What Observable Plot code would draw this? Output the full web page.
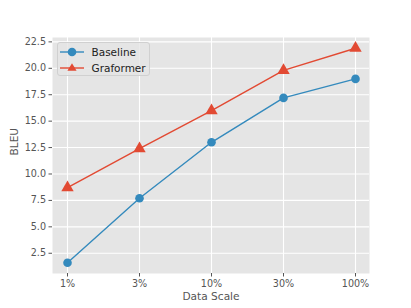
<!DOCTYPE html>
<html>
<head>
<meta charset="utf-8">
<script src="https://cdn.jsdelivr.net/npm/d3@7"></script>
<script src="https://cdn.jsdelivr.net/npm/@observablehq/plot@0.6"></script>
<style>
  html, body { margin: 0; padding: 0; background: #fff; }
  #wrap { position: relative; width: 411px; height: 308px; font-family: "DejaVu Sans", sans-serif; }
  #legend { position: absolute; left: 56.5px; top: 42px; width: 93px; height: 34px; box-sizing: border-box;
            background: rgba(229,229,229,0.8); border: 1px solid #d0d0d0; border-radius: 3px; }
  .row { position: absolute; left: 2px; height: 14px; display: flex; align-items: center; font-size: 10.5px; color: #222; }
  .row svg { margin-right: 6px; }
</style>
</head>
<body>
<div id="wrap"></div>
<script>
const scales = ["1%", "3%", "10%", "30%", "100%"];
const baseline = [1.6, 7.7, 13.0, 17.2, 19.0];
const graformer = [8.7, 12.4, 16.0, 19.8, 21.9];
const seriesNames = ["Baseline", "Graformer"];
const seriesColors = ["#348ABD", "#E24A33"];
const yTicks = [2.5, 5.0, 7.5, 10.0, 12.5, 15.0, 17.5, 20.0, 22.5];

const rows = [];
scales.forEach((s, i) => {
  rows.push({scale: s, value: baseline[i], series: seriesNames[0]});
  rows.push({scale: s, value: graformer[i], series: seriesNames[1]});
});
const bRows = rows.filter(d => d.series === seriesNames[0]);
const gRows = rows.filter(d => d.series === seriesNames[1]);

const chart = Plot.plot({
  width: 411,
  height: 308,
  marginLeft: 52,
  marginRight: 42,
  marginTop: 37,
  marginBottom: 35,
  style: {fontFamily: "DejaVu Sans, sans-serif", background: "#fff"},
  x: {type: "point", domain: scales, padding: 0.19, label: null},
  y: {domain: [0.585, 22.915], label: null},
  marks: [
    Plot.frame({fill: "#E5E5E5", stroke: null}),
    Plot.gridY(yTicks, {stroke: "#fff", strokeOpacity: 1, strokeWidth: 1.1}),
    Plot.gridX(scales, {stroke: "#fff", strokeOpacity: 1, strokeWidth: 1.1}),
    Plot.axisY(yTicks, {tickFormat: d => d.toFixed(1), tickSize: 3.5, tickPadding: 3, fontSize: 9.6, color: "#555", label: null}),
    Plot.axisX(scales, {tickSize: 3.5, tickPadding: 3, fontSize: 9.6, color: "#555", label: null}),
    Plot.line(bRows, {x: "scale", y: "value", stroke: seriesColors[0], strokeWidth: 1.4}),
    Plot.dot(bRows, {x: "scale", y: "value", fill: seriesColors[0], r: 4.3, symbol: "circle"}),
    Plot.line(gRows, {x: "scale", y: "value", stroke: seriesColors[1], strokeWidth: 1.4}),
    Plot.dot(gRows, {x: "scale", y: "value", fill: seriesColors[1], r: 4.6, symbol: "triangle"}),
    Plot.text(["Data Scale"], {frameAnchor: "bottom", dy: 26, fontSize: 10.6, fill: "#555", text: d => d}),
    Plot.text(["BLEU"], {frameAnchor: "left", dx: -38, rotate: -90, fontSize: 10.6, fill: "#555", text: d => d})
  ]
});

const wrap = document.getElementById("wrap");
wrap.appendChild(chart);

const legend = document.createElement("div");
legend.id = "legend";
const markerSvg = ["<circle cx='12' cy='7' r='4.3' fill='" + seriesColors[0] + "'/>",
                   "<path d='M12,2.2 L16.6,9.8 L7.4,9.8 Z' fill='" + seriesColors[1] + "'/>"];
seriesNames.forEach((name, i) => {
  const row = document.createElement("div");
  row.className = "row";
  row.style.top = (i === 0 ? 1.5 : 17.5) + "px";
  row.innerHTML = "<svg width='26' height='14'><line x1='0' x2='24' y1='7' y2='7' stroke='" + seriesColors[i] + "' stroke-width='1.4'/>" + markerSvg[i] + "</svg><span>" + name + "</span>";
  legend.appendChild(row);
});
wrap.appendChild(legend);
</script>
</body>
</html>
